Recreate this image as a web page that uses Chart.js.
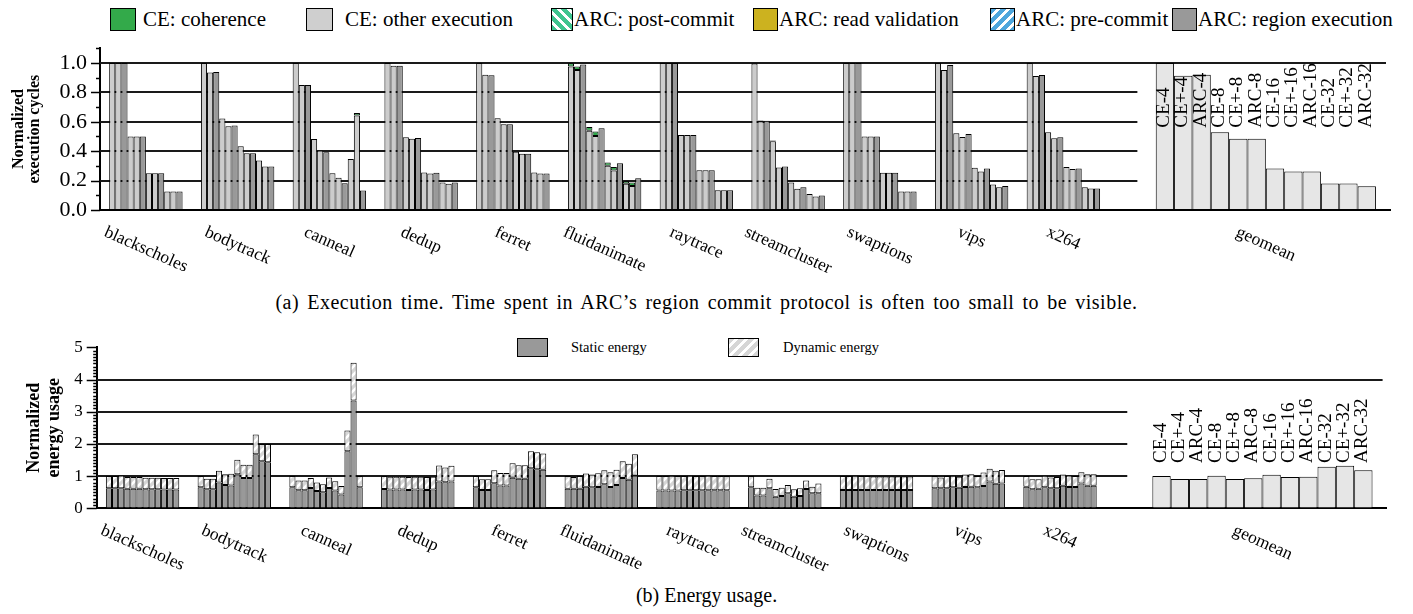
<!DOCTYPE html>
<html>
<head>
<meta charset="utf-8">
<script src="https://cdn.jsdelivr.net/npm/chart.js@4.4.1/dist/chart.umd.min.js"></script>
<style>
body { margin: 0; width: 1413px; height: 614px; position: relative; overflow: hidden; background: #fff; font-family: 'Liberation Serif', serif; color: #000; }
.box { position: absolute; left: 0; }
.sw { position: absolute; border: 1px solid #000; box-sizing: border-box; }
.lt { position: absolute; white-space: nowrap; }
.cap { position: absolute; left: 0; width: 1413px; text-align: center; font-size: 20px; white-space: nowrap; }
</style>
</head>
<body>

<!-- legend, execution time -->
<div class="sw" style="left:110px;top:8px;width:26px;height:23px;background:#33aa4a"></div>
<div class="lt" style="left:143px;top:7px;font-size:21px">CE: coherence</div>
<div class="sw" style="left:306px;top:8px;width:27px;height:23px;background:#cfcfcf"></div>
<div class="lt" style="left:345px;top:7px;font-size:21px">CE: other execution</div>
<div class="sw" style="left:551px;top:8px;width:22px;height:23px;background:repeating-linear-gradient(45deg,#3ec48f 0 4px,#fff 4px 7px)"></div>
<div class="lt" style="left:574px;top:7px;font-size:21px">ARC: post-commit</div>
<div class="sw" style="left:753px;top:8px;width:25px;height:23px;background:#ccb21f"></div>
<div class="lt" style="left:779px;top:7px;font-size:21px">ARC: read validation</div>
<div class="sw" style="left:990px;top:8px;width:25px;height:23px;background:repeating-linear-gradient(135deg,#4ea6dc 0 4px,#fff 4px 7px)"></div>
<div class="lt" style="left:1016px;top:7px;font-size:21px">ARC: pre-commit</div>
<div class="sw" style="left:1172px;top:8px;width:25px;height:23px;background:#999999"></div>
<div class="lt" style="left:1198px;top:7px;font-size:21px">ARC: region execution</div>

<div class="box" style="top:22px;width:1413px;height:264px"><canvas id="cycles" width="1413" height="264"></canvas></div>
<div class="cap" style="top:291px;letter-spacing:0.5px;word-spacing:2.7px">(a) Execution time. Time spent in ARC’s region commit protocol is often too small to be visible.</div>

<!-- legend, energy -->
<div class="sw" style="left:517px;top:338px;width:31px;height:19px;background:#999999"></div>
<div class="lt" style="left:571px;top:339px;font-size:14.5px">Static energy</div>
<div class="sw" style="left:728px;top:338px;width:31px;height:19px;background:repeating-linear-gradient(135deg,#d6d6d6 0 4px,#fff 4px 7px)"></div>
<div class="lt" style="left:783px;top:339px;font-size:14.5px">Dynamic energy</div>

<div class="box" style="top:320px;width:1413px;height:260px"><canvas id="energy" width="1413" height="260"></canvas></div>
<div class="cap" style="top:584px">(b) Energy usage.</div>

<script>
const benchmarks = ['blackscholes', 'bodytrack', 'canneal', 'dedup', 'ferret', 'fluidanimate',
    'raytrace', 'streamcluster', 'swaptions', 'vips', 'x264'];
const configs = ['CE-4', 'CE+-4', 'ARC-4', 'CE-8', 'CE+-8', 'ARC-8',
    'CE-16', 'CE+-16', 'ARC-16', 'CE-32', 'CE+-32', 'ARC-32'];

// (a) execution cycles: CE other execution / ARC region execution, per benchmark x config
const cyclesMain = [
    [1.0, 1.0, 1.0, 0.5, 0.5, 0.5, 0.25, 0.25, 0.25, 0.125, 0.125, 0.125],
    [1.0, 0.934, 0.938, 0.622, 0.569, 0.574, 0.433, 0.385, 0.385, 0.337, 0.296, 0.296],
    [1.0, 0.85, 0.85, 0.483, 0.405, 0.392, 0.25, 0.219, 0.182, 0.346, 0.642, 0.132],
    [1.0, 0.98, 0.98, 0.494, 0.485, 0.49, 0.255, 0.248, 0.253, 0.187, 0.178, 0.187],
    [1.0, 0.92, 0.916, 0.624, 0.583, 0.583, 0.396, 0.383, 0.383, 0.255, 0.248, 0.248],
    [0.975, 0.952, 0.989, 0.538, 0.503, 0.556, 0.30, 0.269, 0.317, 0.178, 0.164, 0.216],
    [1.0, 1.0, 1.0, 0.51, 0.51, 0.51, 0.271, 0.271, 0.271, 0.134, 0.134, 0.134],
    [0.996, 0.603, 0.606, 0.468, 0.289, 0.296, 0.187, 0.144, 0.155, 0.109, 0.091, 0.098],
    [1.0, 1.0, 1.0, 0.5, 0.5, 0.5, 0.253, 0.253, 0.253, 0.125, 0.125, 0.125],
    [1.0, 0.952, 0.986, 0.522, 0.497, 0.517, 0.287, 0.262, 0.282, 0.173, 0.155, 0.164],
    [1.0, 0.911, 0.918, 0.528, 0.487, 0.494, 0.292, 0.278, 0.282, 0.155, 0.146, 0.146]
];
// CE coherence time stacked on top (ARC columns are 0)
const cyclesCoherence = [
    [0, 0, 0, 0, 0, 0, 0, 0, 0, 0, 0, 0],
    [0, 0, 0, 0, 0, 0, 0, 0, 0, 0, 0, 0],
    [0, 0, 0, 0, 0, 0, 0, 0, 0, 0, 0.018, 0],
    [0, 0, 0, 0, 0, 0, 0, 0, 0, 0, 0, 0],
    [0, 0, 0, 0, 0, 0, 0, 0, 0, 0, 0, 0],
    [0.023, 0.023, 0, 0.027, 0.03, 0, 0.023, 0.023, 0, 0.018, 0.023, 0],
    [0, 0, 0, 0, 0, 0, 0, 0, 0, 0, 0, 0],
    [0.004, 0.005, 0, 0.004, 0, 0, 0, 0, 0, 0, 0, 0],
    [0, 0, 0, 0, 0, 0, 0, 0, 0, 0, 0, 0],
    [0, 0, 0, 0, 0, 0, 0, 0, 0, 0, 0, 0],
    [0, 0, 0, 0, 0, 0, 0, 0, 0, 0, 0, 0]
];
const geomeanCycles = [1.0, 0.913, 0.92, 0.528, 0.485, 0.485, 0.282, 0.262, 0.262, 0.18, 0.18, 0.162];

// (b) energy
const staticEnergy = [
    [0.62, 0.62, 0.62, 0.61, 0.61, 0.61, 0.59, 0.59, 0.59, 0.58, 0.58, 0.58],
    [0.65, 0.59, 0.59, 0.80, 0.72, 0.71, 1.06, 0.94, 0.94, 1.68, 1.46, 1.43],
    [0.65, 0.56, 0.56, 0.63, 0.54, 0.50, 0.63, 0.55, 0.43, 1.77, 3.35, 0.65],
    [0.60, 0.58, 0.58, 0.58, 0.57, 0.58, 0.58, 0.57, 0.58, 0.83, 0.81, 0.83],
    [0.65, 0.57, 0.57, 0.78, 0.71, 0.71, 0.95, 0.92, 0.92, 1.24, 1.21, 1.20],
    [0.61, 0.61, 0.61, 0.67, 0.65, 0.66, 0.75, 0.66, 0.72, 0.94, 0.89, 1.02],
    [0.55, 0.55, 0.55, 0.55, 0.56, 0.56, 0.56, 0.56, 0.56, 0.56, 0.56, 0.56],
    [0.65, 0.40, 0.40, 0.62, 0.36, 0.38, 0.47, 0.36, 0.38, 0.60, 0.47, 0.47],
    [0.57, 0.57, 0.57, 0.57, 0.57, 0.57, 0.57, 0.57, 0.57, 0.57, 0.57, 0.57],
    [0.62, 0.62, 0.62, 0.65, 0.64, 0.66, 0.67, 0.65, 0.69, 0.83, 0.76, 0.77],
    [0.67, 0.59, 0.61, 0.65, 0.62, 0.62, 0.70, 0.66, 0.66, 0.77, 0.70, 0.70]
];
const dynamicEnergy = [
    [0.38, 0.38, 0.40, 0.36, 0.36, 0.36, 0.36, 0.36, 0.36, 0.36, 0.36, 0.36],
    [0.35, 0.33, 0.33, 0.37, 0.34, 0.36, 0.45, 0.41, 0.41, 0.61, 0.54, 0.57],
    [0.35, 0.30, 0.30, 0.31, 0.26, 0.25, 0.33, 0.29, 0.26, 0.65, 1.17, 0.35],
    [0.40, 0.40, 0.40, 0.40, 0.40, 0.40, 0.40, 0.40, 0.40, 0.50, 0.46, 0.49],
    [0.35, 0.33, 0.33, 0.40, 0.39, 0.39, 0.45, 0.42, 0.42, 0.53, 0.53, 0.50],
    [0.39, 0.36, 0.39, 0.41, 0.40, 0.43, 0.43, 0.46, 0.48, 0.52, 0.49, 0.66],
    [0.45, 0.45, 0.46, 0.45, 0.44, 0.45, 0.44, 0.44, 0.45, 0.44, 0.44, 0.44],
    [0.35, 0.24, 0.24, 0.30, 0.24, 0.26, 0.25, 0.23, 0.24, 0.26, 0.20, 0.30],
    [0.43, 0.43, 0.44, 0.43, 0.43, 0.42, 0.42, 0.42, 0.42, 0.42, 0.42, 0.42],
    [0.38, 0.34, 0.38, 0.36, 0.34, 0.39, 0.39, 0.35, 0.42, 0.40, 0.41, 0.42],
    [0.33, 0.31, 0.29, 0.36, 0.34, 0.35, 0.35, 0.36, 0.34, 0.35, 0.36, 0.36]
];
const geomeanEnergy = [1.0, 0.91, 0.91, 1.01, 0.91, 0.93, 1.04, 0.97, 0.98, 1.29, 1.32, 1.18];

const cycleTicks = [0, 0.2, 0.4, 0.6, 0.8, 1.0];
const energyTicks = [0, 1, 2, 3, 4, 5];

// x layout in "bar slots": 12 bars + 3 empty slots per benchmark, geomean bars are 3 slots wide
const SLOTS = 210.9;
const pos = (g, b) => 2 + 15 * g + b;
const gpos = k => 174.1 + 3 * k;
const isArc = b => b % 3 === 2;

const FONT = 'Liberation Serif';

function hatch(ctx, bg, fg, lw) {
    const c = document.createElement('canvas');
    c.width = c.height = 8;
    const g = c.getContext('2d');
    g.fillStyle = bg;
    g.fillRect(0, 0, 8, 8);
    g.strokeStyle = fg;
    g.lineWidth = lw;
    g.beginPath();
    g.moveTo(-4, 4); g.lineTo(4, -4);
    g.moveTo(-4, 12); g.lineTo(12, -4);
    g.moveTo(4, 12); g.lineTo(12, 4);
    g.stroke();
    return ctx.createPattern(c, 'repeat');
}

// gridlines, minor ticks, axis titles and the rotated labels
const decor = {
    id: 'decor',
    beforeDatasetsDraw(chart, args, o) {
        const { ctx, scales: { x, y } } = chart;
        ctx.save();
        ctx.strokeStyle = '#1a1a1a';
        ctx.lineWidth = 2;
        o.grid.forEach(v => {
            const py = Math.round(y.getPixelForValue(v));
            const end = o.fullGrid.includes(v) ? x.right - 4 : x.getPixelForValue(o.gridEnd);
            ctx.beginPath();
            ctx.moveTo(x.left, py);
            ctx.lineTo(end, py);
            ctx.stroke();
        });
        ctx.restore();
    },
    afterDraw(chart, args, o) {
        const { ctx, scales: { x, y } } = chart;
        const axisY = chart.chartArea.bottom;
        ctx.save();
        ctx.strokeStyle = '#000';
        ctx.lineWidth = 1.5;
        const n = Math.round(y.max / o.minor);
        for (let i = 0; i <= n; i++) {
            const py = Math.round(y.getPixelForValue(i * o.minor)) + 0.5;
            const len = i % o.majorEvery === 0 ? o.majorLen : o.minorLen;
            ctx.beginPath();
            ctx.moveTo(x.left - len, py);
            ctx.lineTo(x.left, py);
            ctx.stroke();
        }

        // y title, two lines
        ctx.fillStyle = '#000';
        ctx.font = 'bold ' + o.titleSize + 'px "' + FONT + '"';
        ctx.textAlign = 'center';
        ctx.textBaseline = 'middle';
        const cy = (y.top + y.bottom) / 2;
        o.title.forEach((t, i) => {
            ctx.save();
            ctx.translate(o.titleX[i], cy);
            ctx.rotate(-Math.PI / 2);
            ctx.fillText(t, 0, 0);
            ctx.restore();
        });

        // benchmark names, rotated clockwise
        ctx.font = '17.5px "' + FONT + '"';
        ctx.textAlign = 'left';
        const th = 24 * Math.PI / 180;
        const names = benchmarks.concat(['geomean']);
        names.forEach((name, g) => {
            const cx = g < benchmarks.length
                ? x.getPixelForValue(pos(g, 0) + 5.5)
                : x.getPixelForValue(gpos(0) + 16.5);
            const w = ctx.measureText(name).width;
            ctx.save();
            ctx.translate(cx - w / 2 * Math.cos(th), axisY + 21.5);
            ctx.rotate(th);
            ctx.fillText(name, 0, 0);
            ctx.restore();
        });

        // configuration names over the geomean bars
        ctx.font = '19px "' + FONT + '"';
        const ly = y.getPixelForValue(o.configAt);
        configs.forEach((c, k) => {
            ctx.save();
            ctx.translate(x.getPixelForValue(gpos(k)) - 1, ly);
            ctx.rotate(-Math.PI / 2);
            ctx.fillText(c, 0, 0);
            ctx.restore();
        });
        ctx.restore();
    }
};

const barDefaults = {
    borderColor: '#000',
    borderWidth: 1,
    borderSkipped: false,
    inflateAmount: 0,
    grouped: false,
    categoryPercentage: 1,
    barPercentage: 1
};

function xScale(height) {
    return {
        type: 'linear',
        min: 0,
        max: SLOTS,
        offset: false,
        grid: { display: false, drawTicks: false },
        ticks: { display: false },
        border: { display: true, color: '#000', width: 2 },
        afterFit: s => { s.height = height; }
    };
}

function yScale(max, step, size, pad, width, fmt) {
    return {
        stacked: true,
        min: 0,
        max: max,
        grid: { display: false, drawTicks: false },
        border: { display: true, color: '#000', width: 2 },
        ticks: {
            stepSize: step,
            includeBounds: false,
            padding: pad,
            color: '#000',
            font: { family: FONT, size: size },
            callback: fmt
        },
        afterFit: s => { s.width = width; }
    };
}

// (a) execution time
const ceOther = [], ceCoh = [], arcRegion = [];
benchmarks.forEach((name, g) => {
    cyclesMain[g].forEach((v, b) => {
        if (isArc(b)) {
            arcRegion.push({ x: pos(g, b), y: v });
        } else {
            ceOther.push({ x: pos(g, b), y: v });
            if (cyclesCoherence[g][b] > 0) ceCoh.push({ x: pos(g, b), y: cyclesCoherence[g][b] });
        }
    });
});

new Chart(document.getElementById('cycles'), {
    type: 'bar',
    data: {
        datasets: [
            { ...barDefaults, label: 'CE: other execution', data: ceOther, backgroundColor: '#cccccc', stack: 's' },
            { ...barDefaults, label: 'CE: coherence', data: ceCoh, backgroundColor: '#2ea84a', stack: 's' },
            { ...barDefaults, label: 'ARC: region execution', data: arcRegion, backgroundColor: '#999999', stack: 's' },
            { ...barDefaults, label: 'geomean', data: geomeanCycles.map((v, k) => ({ x: gpos(k), y: v })),
              backgroundColor: '#e6e6e6', stack: 'g', barPercentage: 3 }
        ]
    },
    options: {
        responsive: false,
        animation: false,
        devicePixelRatio: 1,
        layout: { padding: { left: 0, right: 23, top: 12, bottom: 0 } },
        scales: {
            x: xScale(76),
            y: yScale(1.1, 0.2, 22, 13, 100, v => v.toFixed(1))
        },
        plugins: {
            legend: { display: false },
            tooltip: { enabled: false },
            decor: {
                grid: cycleTicks.slice(1),
                fullGrid: [1.0],
                gridEnd: 169.6,
                minor: 0.1, majorEvery: 2, majorLen: 9, minorLen: 4,
                title: ['Normalized', 'execution cycles'],
                titleX: [19, 35],
                titleSize: 16,
                configAt: 0.56
            }
        }
    },
    plugins: [decor]
});

// (b) energy usage
const energyCtx = document.getElementById('energy').getContext('2d');
const staticPts = [], dynamicPts = [];
benchmarks.forEach((name, g) => {
    staticEnergy[g].forEach((v, b) => staticPts.push({ x: pos(g, b), y: v }));
    dynamicEnergy[g].forEach((v, b) => dynamicPts.push({ x: pos(g, b), y: v }));
});

new Chart(energyCtx, {
    type: 'bar',
    data: {
        datasets: [
            { ...barDefaults, label: 'Static energy', data: staticPts, backgroundColor: '#999999', stack: 'e' },
            { ...barDefaults, label: 'Dynamic energy', data: dynamicPts,
              backgroundColor: hatch(energyCtx, '#d6d6d6', '#ffffff', 2.5), stack: 'e' },
            { ...barDefaults, label: 'geomean', data: geomeanEnergy.map((v, k) => ({ x: gpos(k), y: v })),
              backgroundColor: '#e6e6e6', stack: 'g', barPercentage: 3 }
        ]
    },
    options: {
        responsive: false,
        animation: false,
        devicePixelRatio: 1,
        layout: { padding: { left: 0, right: 26.4, top: 27.3, bottom: 0 } },
        scales: {
            x: xScale(71.7),
            y: yScale(5, 1, 17, 14, 96.7, v => String(v))
        },
        plugins: {
            legend: { display: false },
            tooltip: { enabled: false },
            decor: {
                grid: energyTicks.slice(1, 5),
                fullGrid: [4],
                gridEnd: 168.5,
                minor: 0.1, majorEvery: 10, majorLen: 10, minorLen: 3.5,
                title: ['Normalized', 'energy usage'],
                titleX: [34, 54],
                titleSize: 18,
                configAt: 1.41
            }
        }
    },
    plugins: [decor]
});
</script>
</body>
</html>
